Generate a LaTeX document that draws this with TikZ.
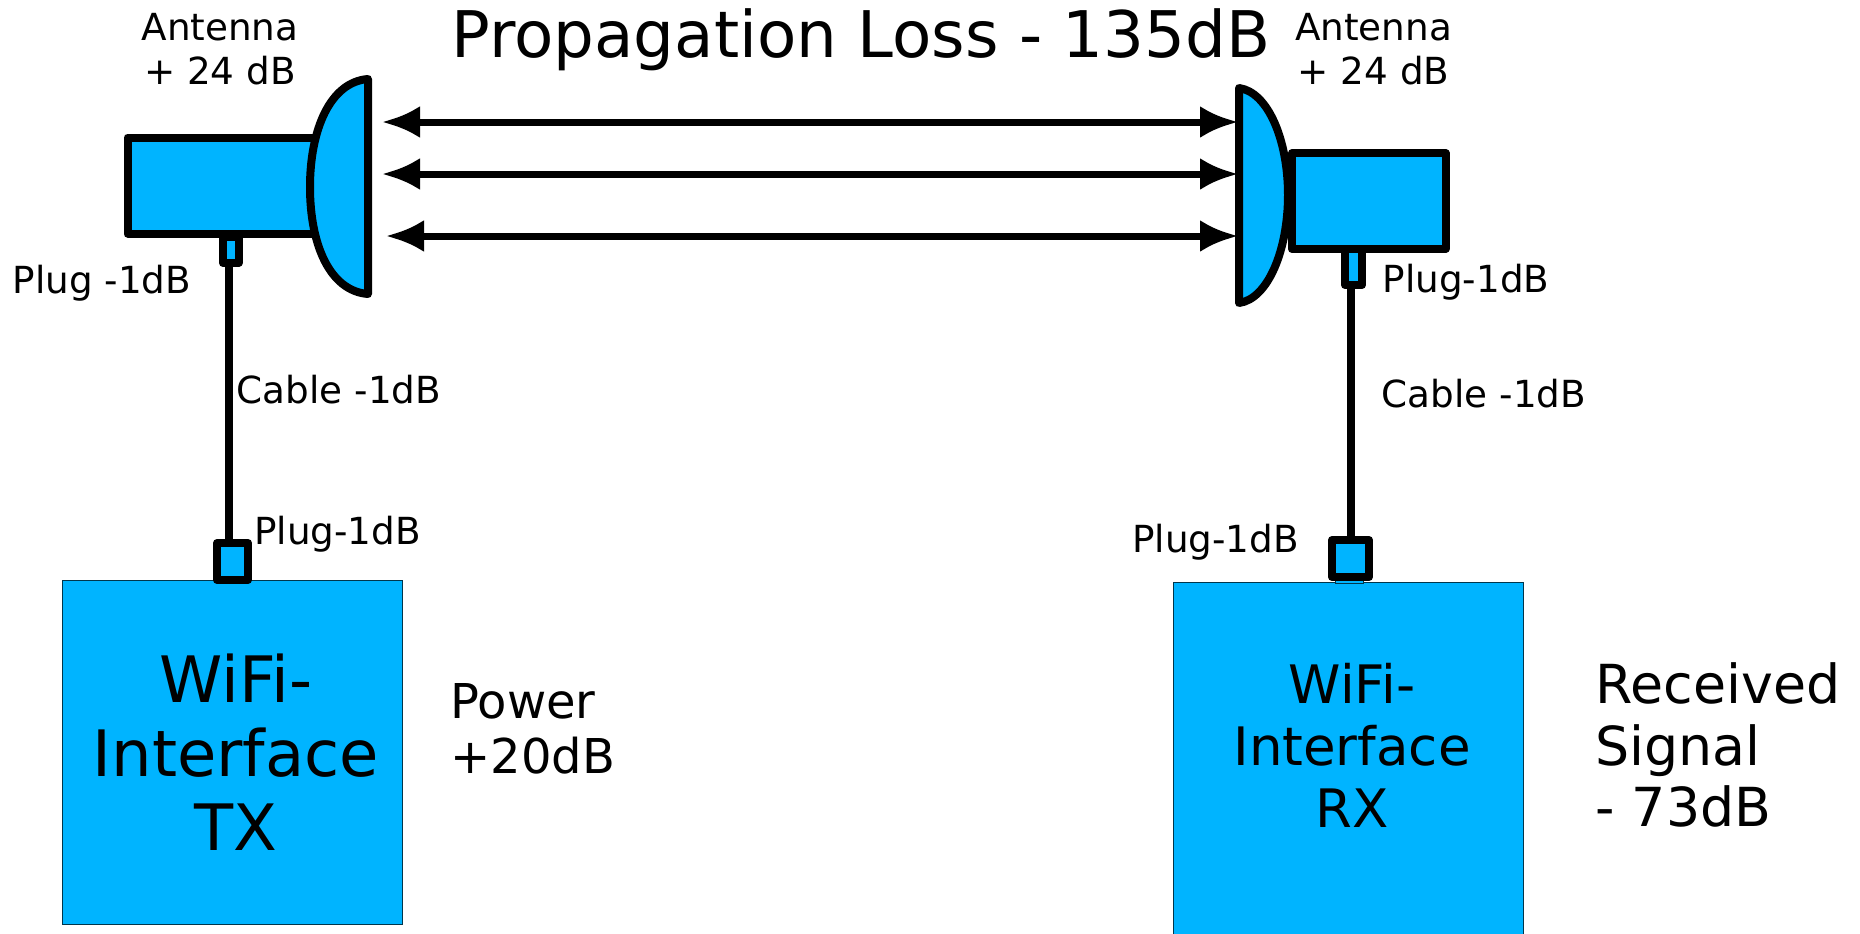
\documentclass[tikz,border=0pt]{standalone}
\usepackage{fontspec}
\setmainfont{DejaVu Sans}
\usetikzlibrary{arrows.meta}
\definecolor{WifiBlue}{HTML}{00B4FF}
\tikzset{
  part/.style={draw=black,line width=4pt,fill=WifiBlue,line join=round},
  block/.style={draw=black!70!WifiBlue,line width=0.5pt,fill=WifiBlue,inner sep=0pt},
  plug/.style={part,rectangle,inner sep=0pt},
  wire/.style={line width=4pt},
  ray/.style={line width=3.5pt,{Latex[length=19pt,width=16pt]}-{Latex[length=19pt,width=16pt]}},
  small/.style={inner sep=0pt,align=center,font=\fontsize{18.65}{22}\selectfont},
  big/.style={inner sep=0pt,align=left,font=\fontsize{26.9}{30.7}\selectfont}
}

\begin{document}
\begin{tikzpicture}[x=0.5pt,y=-0.5pt]
  \clip (0,0) rectangle (1860,933);
  % transmit side
  \node[block,minimum width=170pt,minimum height=172pt] (txbox) at (232,752) {};
  \node[inner sep=0pt,align=center,font=\fontsize{32}{37}\selectfont] (txname) at (236,752) {WiFi-\\Interface\\TX};
  \node[plug,minimum width=15.5pt,minimum height=18.5pt] (txplugb) at (232.5,561.5) {};
  \node[plug,minimum width=7.7pt,minimum height=13pt] (txplugt) at (230.8,250) {};
  \draw[wire] (txplugt.south -| 229,0) -- (txplugb.north -| 229,0);
  \draw[part] (127.5,137.5) rectangle (316,233.5);
  \draw[part] (368,79) .. controls (330,82) and (310,130) .. (310,187)
    .. controls (310,245) and (330,291) .. (368,294) -- cycle;
  % receive side
  \node[block,minimum width=175pt,minimum height=176pt] (rxbox) at (1348.5,758.5) {};
  \node[inner sep=0pt,align=center,font=\fontsize{26.5}{31}\selectfont] (rxname) at (1352,745) {WiFi-\\Interface\\RX};
  \node[plug,minimum width=8.5pt,minimum height=18pt] (rxplugt) at (1353.5,267) {};
  \draw[block] (1335,578) rectangle (1363,583);
  \node[plug,minimum width=18.5pt,minimum height=18.5pt] (rxplugb) at (1350.5,558.5) {};
  \draw[wire] (rxplugt.south -| 1351,0) -- (rxplugb.north -| 1351,0);
  \draw[part] (1445.5,153) rectangle (1292,249);
  \draw[part] (1239,88) .. controls (1268,92) and (1288,140) .. (1288,195)
    .. controls (1288,250) and (1268,299) .. (1239,303) -- cycle;
  % rays between the dishes
  \foreach \n/\xa/\y in {up/382/122,mid/382/174,low/386/236} {
    \coordinate (txray\n) at (\xa,\y);
    \coordinate (rxray\n) at (1238,\y);
    \draw[ray] (txray\n) -- (rxray\n);
  }
  % labels
  \node[inner sep=0pt,font=\fontsize{32.15}{37}\selectfont] (title) at (861,40) {Propagation Loss - 135dB};
  \node[small] (txant) at (220,49) {Antenna\\+ 24 dB};
  \node[small] (rxant) at (1373.5,49) {Antenna\\+ 24 dB};
  \node[small] (txplugtl) at (102,283) {Plug -1dB};
  \node[small] (txcable) at (339,390) {Cable -1dB};
  \node[small] (txplugbl) at (337.5,534) {Plug-1dB};
  \node[small] (rxplugtl) at (1466,282) {Plug-1dB};
  \node[small] (rxcable) at (1484,394) {Cable -1dB};
  \node[small] (rxplugbl) at (1215.5,542) {Plug-1dB};
  \node[inner sep=0pt,align=left,anchor=west,font=\fontsize{24}{27.5}\selectfont] (power) at (450,729) {Power\\+20dB};
  \node[big,anchor=west] (signal) at (1595,745) {Received\\Signal\\- 73dB};
\end{tikzpicture}
\end{document}
